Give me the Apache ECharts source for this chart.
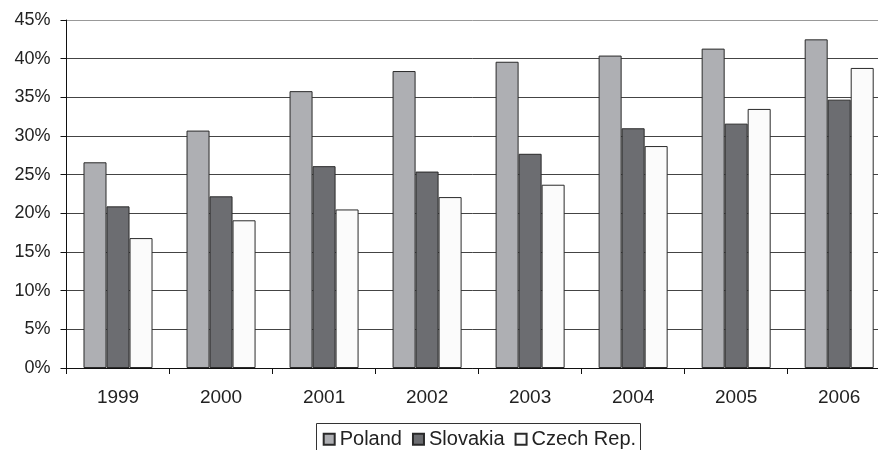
<!DOCTYPE html>
<html>
<head>
<meta charset="utf-8">
<script src="https://cdn.jsdelivr.net/npm/echarts@6/dist/echarts.min.js"></script>
<style>html,body{margin:0;padding:0;background:#fff}#c{width:878px;height:450px}</style>
</head>
<body>
<div id="c"></div>
<script>
const categories = ['1999','2000','2001','2002','2003','2004','2005','2006'];
const poland   = [26.6, 30.7, 35.8, 38.4, 39.6, 40.4, 41.3, 42.5];
const slovakia = [20.9, 22.2, 26.1, 25.4, 27.7, 31.0, 31.6, 34.7];
const czech    = [16.8, 19.1, 20.5, 22.1, 23.7, 28.7, 33.5, 38.8];
const seriesNames = ['Poland', 'Slovakia', 'Czech Rep.'];

const font = "'Liberation Sans', Arial, Helvetica, sans-serif";
const chart = echarts.init(document.getElementById('c'), null, {renderer: 'canvas'});
const gridColors = ['#444','#444','#444','#444','#444','#444','#444','#444','#444','#999'];
const mk = (name, data, color) => ({
  name, type: 'bar', data,
  barGap: '0%', barCategoryGap: '33%',
  itemStyle: {color, borderColor: '#2a2a2a', borderWidth: 1},
  animation: false
});
chart.setOption({
  backgroundColor: '#fff',
  animation: false,
  textStyle: {fontFamily: font},
  grid: {left: 66.5, top: 20, width: 824.2, height: 348, containLabel: false, outerBoundsMode: 'none'},
  graphic: [{
    type: 'rect', silent: true, z: 10,
    shape: {x: 316.5, y: 423.5, width: 324, height: 40},
    style: {fill: 'none', stroke: '#333', lineWidth: 1}
  }],
  legend: {
    left: 322.7, top: 429.2,
    orient: 'horizontal',
    itemWidth: 11, itemHeight: 11, itemGap: 10,
    icon: 'rect',
    padding: 0,
    textStyle: {fontSize: 20, lineHeight: 20, color: '#222', fontFamily: font},
    data: seriesNames
  },
  xAxis: {
    type: 'category', data: categories,
    axisLine: {lineStyle: {color: '#111', width: 1}},
    axisTick: {show: true, length: 6, lineStyle: {color: '#111'}},
    axisLabel: {fontSize: 19, color: '#222', margin: 20, fontFamily: font},
    splitLine: {show: false}
  },
  yAxis: {
    type: 'value', min: 0, max: 45, interval: 5,
    axisLine: {show: true, lineStyle: {color: '#111', width: 1}},
    axisTick: {show: true, length: 6, lineStyle: {color: '#111'}},
    axisLabel: {fontSize: 18, color: '#222', margin: 16, formatter: '{value}%', fontFamily: font},
    splitLine: {show: true, lineStyle: {color: gridColors, width: 1}}
  },
  series: [
    mk(seriesNames[0], poland, '#aeafb3'),
    mk(seriesNames[1], slovakia, '#6c6d71'),
    mk(seriesNames[2], czech, '#fbfbfb')
  ]
});
</script>
</body>
</html>
